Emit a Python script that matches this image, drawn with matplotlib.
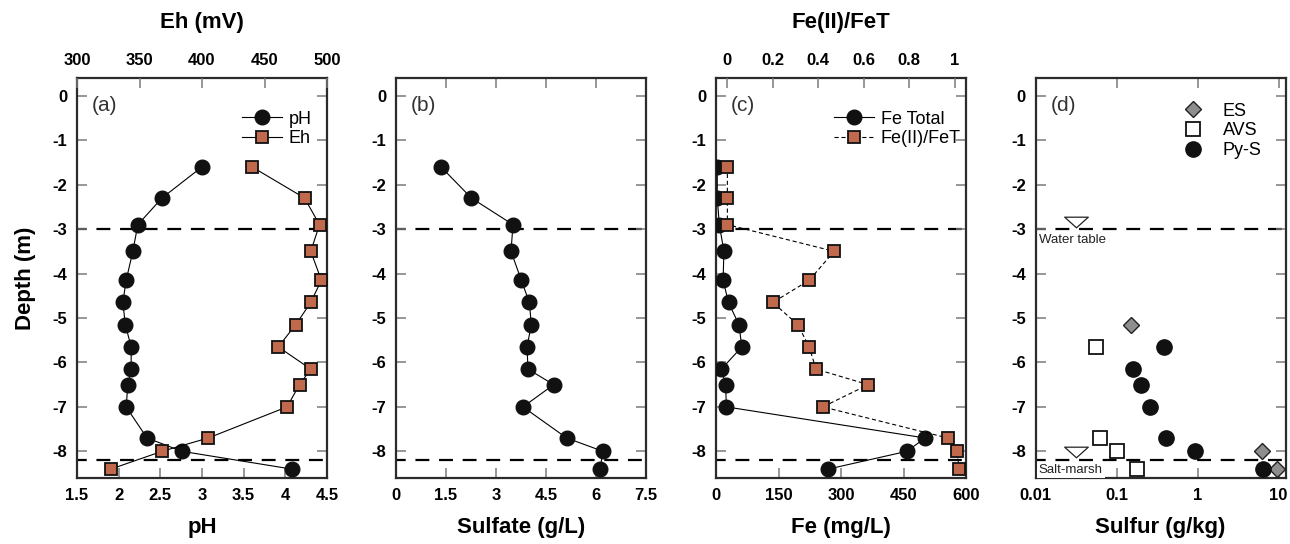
import matplotlib
matplotlib.use("Agg")
import matplotlib.pyplot as plt
from matplotlib.lines import Line2D
from matplotlib.path import Path
import numpy as np

plt.rcParams['font.family'] = ['Liberation Sans', 'DejaVu Sans']
plt.rcParams['lines.scale_dashes'] = False

# ---------------- data ----------------
depth = [-1.6, -2.3, -2.9, -3.5, -4.15, -4.65, -5.15, -5.65, -6.15, -6.5, -7.0, -7.7, -8.0, -8.4]
ph = [3.0, 2.52, 2.23, 2.17, 2.09, 2.05, 2.08, 2.15, 2.15, 2.11, 2.09, 2.34, 2.76, 4.08]
eh = [440, 482, 494, 487, 495.5, 487, 475, 461, 487, 478, 468, 405, 368, 327]
sulfate = [1.35, 2.26, 3.51, 3.45, 3.76, 4.0, 4.06, 3.93, 3.96, 4.73, 3.81, 5.12, 6.21, 6.12]
fe_total = [3, 3, 8, 19, 17, 30, 55, 62, 13, 23, 25, 502, 458, 269]
fe_ratio = [0, 0, 0, 0.47, 0.36, 0.20, 0.31, 0.36, 0.39, 0.62, 0.42, 0.97, 1.01, 1.02]

es_depth = [-5.15, -8.0, -8.4]
es = [0.149, 6.3, 9.6]
avs_depth = [-5.65, -7.7, -8.0, -8.4]
avs = [0.056, 0.063, 0.102, 0.18]
pys_depth = [-5.65, -6.15, -6.5, -7.0, -7.7, -8.0, -8.4]
pys = [0.387, 0.161, 0.20, 0.26, 0.41, 0.935, 6.5]

water_table = -3.0
salt_marsh = -8.2
marker_pos = [0.0318, 0.0318]
marker_depth = [-2.85, -8.02]

depth_ticks = [0, -1, -2, -3, -4, -5, -6, -7, -8]
ph_ticks = [1.5, 2, 2.5, 3, 3.5, 4, 4.5]
eh_ticks = [300, 350, 400, 450, 500]
sulf_ticks = [0, 1.5, 3, 4.5, 6, 7.5]
fe_ticks = [0, 150, 300, 450, 600]
ratio_ticks = [0, 0.2, 0.4, 0.6, 0.8, 1]
ratio_labels = ['0', '0.2', '0.4', '0.6', '0.8', '1']
s_ticks = [0.01, 0.1, 1, 10]
s_labels = ['0.01', '0.1', '1', '10']

BROWN = '#C0694C'
GRAY = '#8E8E8E'
SPINE = '#2b2b2b'
TICKC = '#7a7a7a'

fig = plt.figure(figsize=(12.9, 5.44), dpi=100)
W, H = 1290, 544
lefts = [77, 396, 716, 1035.5]
axes = [fig.add_axes([l / W, 66 / H, 250 / W, 400 / H]) for l in lefts]

TICKFS = 12
LABFS = 16
dash = (3, (10, 7))


def style(ax, top=True):
    ax.set_ylim(-8.6, 0.4)
    ax.set_yticks(depth_ticks)
    ax.set_yticklabels([str(t) for t in depth_ticks])
    for s in ax.spines.values():
        s.set_color(SPINE)
        s.set_linewidth(1.6)
    ax.tick_params(direction='in', length=7, width=1.1, color=TICKC,
                   right=True, top=top, labelsize=TICKFS, pad=7)
    for lab in ax.get_xticklabels() + ax.get_yticklabels():
        lab.set_fontweight('bold')
    ax.axhline(water_table, color='k', lw=1.6, ls=dash, zorder=1)
    ax.axhline(salt_marsh, color='k', lw=1.6, ls=dash, zorder=1)


def boldticks(ax):
    for lab in ax.get_xticklabels() + ax.get_yticklabels():
        lab.set_fontweight('bold')


circ = dict(marker='o', ms=10.5, mfc='#111111', mec='#111111')
sq = dict(marker='s', ms=9, mfc=BROWN, mec='#111111', mew=1.3)

# ---------- (a) ----------
ax = axes[0]
ax.set_xlim(1.5, 4.5)
ax.set_xticks(ph_ticks)
ax.set_xticklabels(['1.5', '2', '2.5', '3', '3.5', '4', '4.5'])
style(ax, top=False)
ax.plot(ph, depth, color='k', lw=0.8, zorder=3, **circ)
ax2 = ax.twiny()
ax2.set_xlim(300, 500)
ax2.set_xticks(eh_ticks)
ax2.set_xticklabels([str(t) for t in eh_ticks])
ax2.tick_params(direction='in', length=7, width=1.1, color=TICKC, labelsize=TICKFS, pad=7)
boldticks(ax2)
for s in ax2.spines.values():
    s.set_visible(False)
ax2.plot(eh, depth, color='k', lw=0.8, zorder=3, **sq)
ax2.set_xlabel('Eh (mV)', fontsize=LABFS, fontweight='bold', labelpad=18)
ax.set_xlabel('pH', fontsize=LABFS, fontweight='bold', labelpad=10)
ax.set_ylabel('Depth (m)', fontsize=LABFS, fontweight='bold', labelpad=12)
ax.text(0.06, 0.955, '(a)', transform=ax.transAxes, fontsize=15, va='top', color='#333333')
h1 = Line2D([], [], color='k', lw=0.8, **circ)
h2 = Line2D([], [], color='k', lw=0.8, **sq)
ax2.legend([h1, h2], ['pH', 'Eh'], loc='upper right', bbox_to_anchor=(0.99, 0.95),
           frameon=False, fontsize=13, handlelength=2.2, handletextpad=0.4,
           labelspacing=0.15, borderaxespad=0.3)

# ---------- (b) ----------
ax = axes[1]
ax.set_xlim(0, 7.5)
ax.set_xticks(sulf_ticks)
ax.set_xticklabels(['0', '1.5', '3', '4.5', '6', '7.5'])
style(ax)
ax.plot(sulfate, depth, color='k', lw=0.8, zorder=3, **circ)
ax.set_xlabel('Sulfate (g/L)', fontsize=LABFS, fontweight='bold', labelpad=10)
ax.text(0.06, 0.955, '(b)', transform=ax.transAxes, fontsize=15, va='top', color='#333333')

# ---------- (c) ----------
ax = axes[2]
ax.set_xlim(0, 600)
ax.set_xticks(fe_ticks)
ax.set_xticklabels([str(t) for t in fe_ticks])
style(ax, top=False)
ax.plot(fe_total, depth, color='k', lw=0.8, zorder=3, **circ)
ax.set_xlabel('Fe (mg/L)', fontsize=LABFS, fontweight='bold', labelpad=10)
ax.text(0.06, 0.955, '(c)', transform=ax.transAxes, fontsize=15, va='top', color='#333333')
ax3 = ax.twiny()
ax3.set_xlim(-0.05, 1.05)
ax3.set_xticks(ratio_ticks)
ax3.set_xticklabels(ratio_labels)
ax3.tick_params(direction='in', length=7, width=1.1, color=TICKC, labelsize=TICKFS, pad=7)
boldticks(ax3)
for s in ax3.spines.values():
    s.set_visible(False)
ax3.plot(fe_ratio, depth, color='k', lw=0.8, ls=(0, (3, 2)), zorder=3, **sq)
ax3.set_xlabel('Fe(II)/FeT', fontsize=LABFS, fontweight='bold', labelpad=18)
h1 = Line2D([], [], color='k', lw=0.8, **circ)
h2 = Line2D([], [], color='k', lw=0.8, ls=(0, (3, 2)), **sq)
ax3.legend([h1, h2], ['Fe Total', 'Fe(II)/FeT'], loc='upper right', bbox_to_anchor=(1.03, 0.95),
           frameon=False, fontsize=13, handlelength=2.2, handletextpad=0.4,
           labelspacing=0.15, borderaxespad=0.3)

# ---------- (d) ----------
ax = axes[3]
ax.set_xscale('log')
ax.set_xlim(0.01, 12.2)
ax.set_xticks(s_ticks)
ax.set_xticklabels(s_labels)
ax.xaxis.set_minor_locator(matplotlib.ticker.NullLocator())
style(ax)
ax.plot(es, es_depth, ls='none', marker='D', ms=8.5, mfc=GRAY, mec='#222222', mew=1.0, zorder=4)
ax.plot(avs, avs_depth, ls='none', marker='s', ms=10, mfc='white', mec='#111111', mew=1.3, zorder=4)
ax.plot(pys, pys_depth, ls='none', marker='o', ms=11, mfc='#111111', mec='#111111', zorder=4)
tri = Path([(-1, 0.45), (1, 0.45), (0, -0.45), (-1, 0.45)],
           [Path.MOVETO, Path.LINETO, Path.LINETO, Path.CLOSEPOLY])
ax.plot(marker_pos, marker_depth, ls='none', marker=tri, ms=17, mfc='white', mec='#222222', mew=0.9, zorder=4)
ax.text(0.011, -3.25, 'Water table', fontsize=9.5, va='center', ha='left', color='#222222', zorder=5)
ax.text(0.011, -8.42, 'Salt-marsh', fontsize=9.5, va='center', ha='left', color='#222222', zorder=5,
        bbox=dict(facecolor='white', edgecolor='none', pad=1.5))
ax.set_xlabel('Sulfur (g/kg)', fontsize=LABFS, fontweight='bold', labelpad=10)
ax.text(0.06, 0.955, '(d)', transform=ax.transAxes, fontsize=15, va='top', color='#333333')
hE = Line2D([], [], ls='none', marker='D', ms=8.5, mfc=GRAY, mec='#222222', mew=1.0)
hA = Line2D([], [], ls='none', marker='s', ms=10, mfc='white', mec='#111111', mew=1.3)
hP = Line2D([], [], ls='none', marker='o', ms=11, mfc='#111111', mec='#111111')
ax.legend([hE, hA, hP], ['ES', 'AVS', 'Py-S'], loc='upper right', bbox_to_anchor=(0.955, 0.97),
          frameon=False, fontsize=13, handlelength=1.5, handletextpad=0.9,
          labelspacing=0.15, borderaxespad=0.3)

fig.savefig('out.png', dpi=100)
